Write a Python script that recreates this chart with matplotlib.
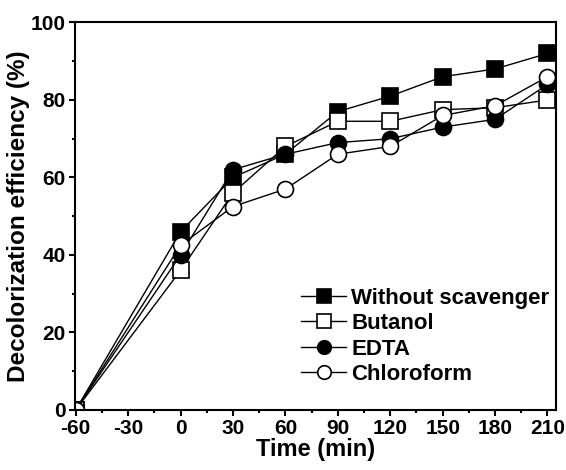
import matplotlib
matplotlib.use("Agg")
import matplotlib.pyplot as plt
from matplotlib.ticker import MultipleLocator

plt.rcParams["font.family"] = ["Liberation Sans", "DejaVu Sans"]
plt.rcParams["font.weight"] = "bold"
plt.rcParams["axes.unicode_minus"] = False

time = [-60, 0, 30, 60, 90, 120, 150, 180, 210]
without = [0, 46, 60, 66, 77, 81, 86, 88, 92]
butanol = [0, 36, 56, 68, 74.5, 74.5, 77.5, 78, 80]
edta = [0, 40, 62, 66, 69, 70, 73, 75, 84]
chloroform = [0, 42.5, 52.5, 57, 66, 68, 76, 78.5, 86]

series = [
    ("Without scavenger", without, "s", "black"),
    ("Butanol", butanol, "s", "white"),
    ("EDTA", edta, "o", "black"),
    ("Chloroform", chloroform, "o", "white"),
]

fig = plt.figure(figsize=(5.66, 4.70), dpi=100)
ax = fig.add_axes([0.1325, 0.1277, 0.849, 0.8245])

for name, vals, marker, face in series:
    ax.plot(time, vals, marker=marker, color="black", markerfacecolor=face,
            markeredgecolor="black", markersize=11.5, markeredgewidth=1.2,
            linewidth=1.0, label=name)

ax.set_xlim(-60.4, 214.6)
ax.set_ylim(0, 100)
ax.xaxis.set_major_locator(MultipleLocator(30))
ax.xaxis.set_minor_locator(MultipleLocator(15))
ax.yaxis.set_major_locator(MultipleLocator(20))
ax.yaxis.set_minor_locator(MultipleLocator(10))
ax.tick_params(which="both", direction="out", width=1.5, labelsize=15, pad=2)
ax.tick_params(which="major", length=4.5)
ax.tick_params(which="minor", length=2.5)
for sp in ax.spines.values():
    sp.set_linewidth(1.5)

ax.set_xlabel("Time (min)", fontsize=17, fontweight="bold", labelpad=0)
ax.set_ylabel("Decolorization efficiency (%)", fontsize=17.5, fontweight="bold", labelpad=1)

ax.legend(loc="lower right", frameon=False, handlelength=2.0,
          handletextpad=0.25, labelspacing=0.2, borderaxespad=0.2,
          markerscale=0.85, bbox_to_anchor=(1.015, 0.03),
          prop={"weight": "bold", "size": 16})

fig.savefig("out.png", dpi=100)
